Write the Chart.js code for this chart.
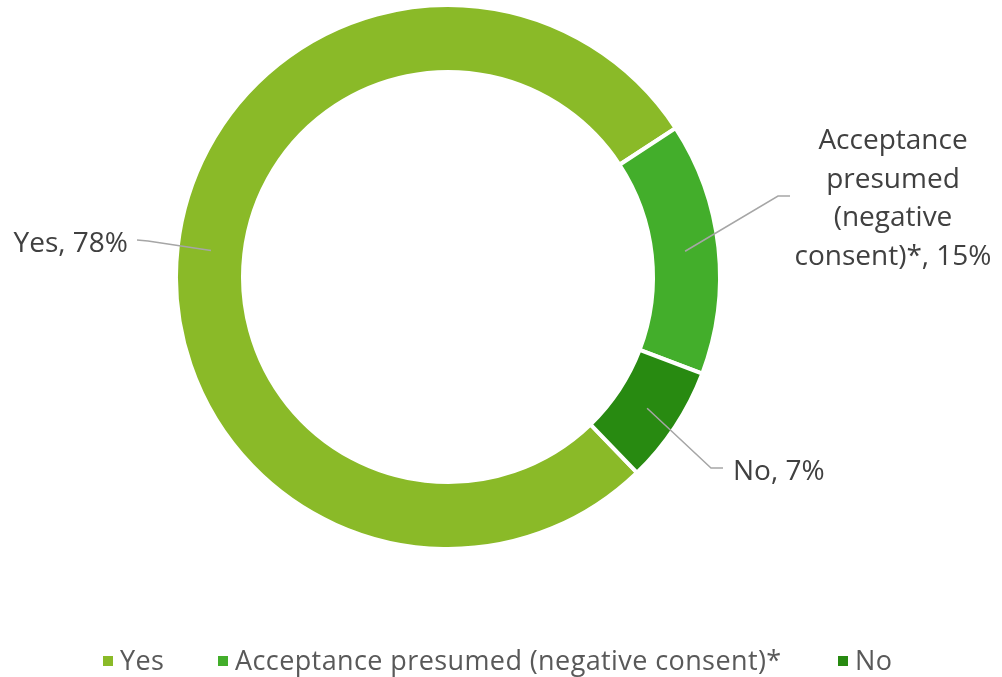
<!DOCTYPE html>
<html>
<head>
<meta charset="utf-8">
<script src="https://cdn.jsdelivr.net/npm/chart.js@4.4.0/dist/chart.umd.min.js"></script>
<style>
  html, body { margin: 0; padding: 0; background: #fff; }
  #wrap { width: 1002px; height: 677px; position: relative; }
</style>
</head>
<body>
<div id="wrap"><canvas id="chart1"></canvas></div>
<script>
// Consent answers (share of respondents, %)
const categories = ["Yes", "Acceptance presumed (negative consent)*", "No"];
const shares = [78, 15, 7];
const colors = ["#8aba28", "#43ae2b", "#288a11"];
// Data label text, one array of lines per slice
const labelLines = [
  ["Yes, 78%"],
  ["Acceptance", "presumed", "(negative", "consent)*, 15%"],
  ["No, 7%"]
];

const labelFont = "28px 'Open Sans'";
const legendFont = "27px 'Open Sans'";

// Leader line elbows/ends and text anchors for each data label
const labelPlacement = [
  { elbow: [148, 241], end: [137, 240], x: 128, y: 252, align: "right" },
  { elbow: [778, 196], end: [790, 196], x: 893, y: 149, align: "center" },
  { elbow: [711, 468], end: [723, 468], x: 733, y: 480, align: "left" }
];

const dataLabels = {
  id: "dataLabels",
  afterDatasetsDraw(chart) {
    const ctx = chart.ctx;
    const arcs = chart.getDatasetMeta(0).data;
    ctx.save();
    arcs.forEach((arc, i) => {
      const p = arc.getCenterPoint();
      const pl = labelPlacement[i];
      ctx.strokeStyle = "#a6a6a6";
      ctx.lineWidth = 1.5;
      ctx.beginPath();
      ctx.moveTo(p.x, p.y);
      ctx.lineTo(pl.elbow[0], pl.elbow[1]);
      ctx.lineTo(pl.end[0], pl.end[1]);
      ctx.stroke();

      ctx.fillStyle = "#404040";
      ctx.font = labelFont;
      ctx.textAlign = pl.align;
      ctx.textBaseline = "alphabetic";
      labelLines[i].forEach((line, k) => {
        ctx.fillText(line, pl.x, pl.y + k * 38.7);
      });
    });
    ctx.restore();
  }
};

// Legend row under the ring
const legendRow = {
  id: "legendRow",
  afterDraw(chart) {
    const ctx = chart.ctx;
    const boxes = [103, 218, 838];
    ctx.save();
    ctx.font = legendFont;
    ctx.letterSpacing = "0.4px";
    ctx.textBaseline = "alphabetic";
    ctx.textAlign = "left";
    categories.forEach((name, i) => {
      ctx.fillStyle = colors[i];
      ctx.fillRect(boxes[i], 656, 10, 10);
      ctx.fillStyle = "#595959";
      ctx.fillText(name, boxes[i] + 17, 670);
    });
    ctx.restore();
  }
};

const ctx = document.getElementById("chart1").getContext("2d");
const chart1 = new Chart(ctx, {
  type: "doughnut",
  data: {
    labels: categories,
    datasets: [
      {
        data: shares,
        backgroundColor: colors,
        borderColor: "#ffffff",
        borderWidth: 4,
        hoverOffset: 0,
        offset: 0
      }
    ]
  },
  options: {
    responsive: true,
    maintainAspectRatio: false,
    animation: false,
    rotation: 136,
    cutout: 205,
    layout: { padding: { left: 174, right: 280, top: 3, bottom: 126 } },
    plugins: {
      legend: { display: false },
      tooltip: { enabled: false }
    }
  },
  plugins: [dataLabels, legendRow]
});
</script>
</body>
</html>
